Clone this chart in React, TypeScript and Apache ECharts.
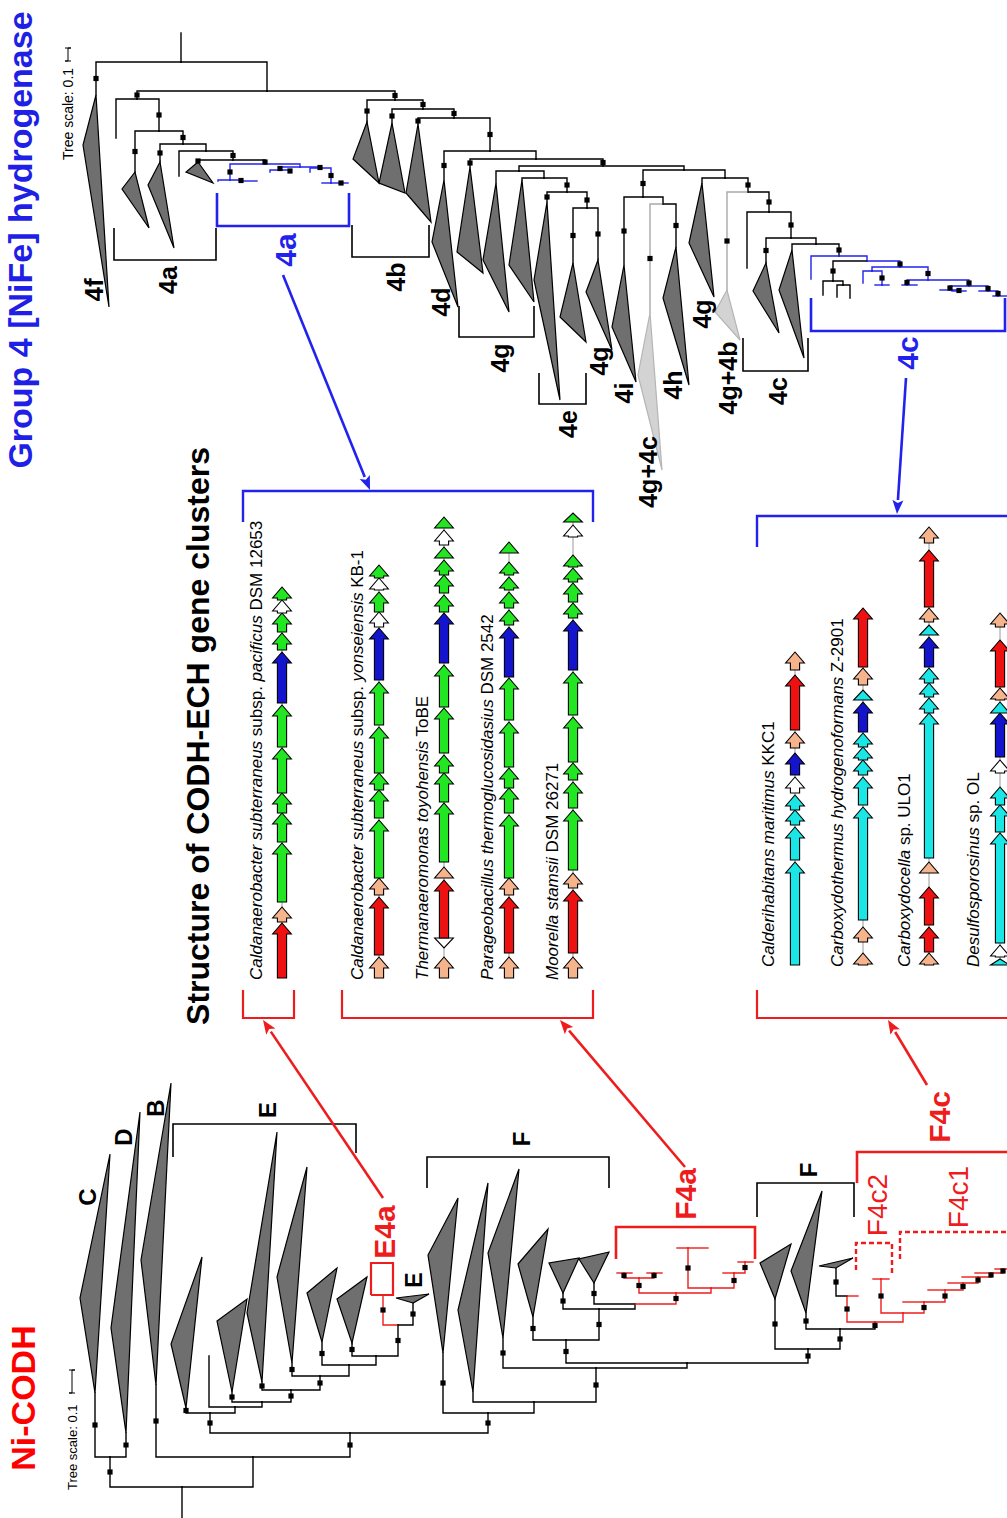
import React, { useEffect, useRef } from 'react';
import * as echarts from 'echarts';

const FONT = '"Liberation Sans", Arial, Helvetica, sans-serif';

// ---------------- DATA ----------------
// tree nodes: [id, parent, spread, depth, colour, hasSupportSquare]
type TNode = [string, string, number, number, string?, number?];

const codhTree: TNode[] = [
  ['R', '', 182, 1518], ['n1', 'R', 182, 1487],
  ['n2', 'n1', 110, 1457, 'k', 1], ['C', 'n2', 95, 1393, 'k', 1], ['D', 'n2', 126, 1433, 'k', 1],
  ['n3', 'n1', 253, 1457], ['B', 'n3', 156, 1385, 'k', 1], ['n4', 'n3', 350, 1433, 'k', 1],
  ['n5', 'n4', 210, 1413, 'k', 1], ['t1', 'n5', 186, 1408, 'k', 1], ['n6', 'n5', 235, 1407],
  ['l1', 'n6', 209, 1356], ['n7', 'n6', 262, 1402], ['t2', 'n7', 232, 1392, 'k', 1],
  ['n8', 'n7', 291, 1390, 'k', 1], ['t3', 'n8', 262, 1382, 'k', 1], ['n9', 'n8', 320, 1376, 'k', 1],
  ['t4', 'n9', 292, 1363, 'k', 1], ['n10', 'n9', 349, 1365], ['t5', 'n10', 322, 1342, 'k', 1],
  ['n11', 'n10', 376, 1356], ['t6', 'n11', 352, 1343, 'k', 1], ['n12', 'n11', 398, 1325, 'k', 1],
  ['e4a', 'n12', 383, 1295, 'r', 1], ['t7', 'n12', 413, 1303, 'k', 1],
  ['n13', 'n4', 488, 1413, 'k', 1], ['t8', 'n13', 443, 1353, 'k', 1], ['n14', 'n13', 534, 1402],
  ['t9', 'n14', 473, 1392], ['n15', 'n14', 596, 1368, 'k', 1], ['t10', 'n15', 503, 1338, 'k', 1],
  ['n16', 'n15', 687, 1363], ['n17', 'n16', 566, 1340, 'k', 1], ['t11', 'n17', 533, 1317, 'k', 1],
  ['n18', 'n17', 599, 1309, 'k', 1], ['t12', 'n18', 563, 1293, 'k', 1], ['n19', 'n18', 635, 1304],
  ['t13', 'n19', 594, 1283, 'k', 1],
  ['a0', 'n19', 676, 1293, 'r', 1], ['a1', 'a0', 639, 1278, 'r', 1], ['a2', 'a1', 624, 1273, 'r', 1],
  ['a2a', 'a2', 617, 1273, 'r'], ['a2b', 'a2', 632, 1273, 'r'], ['a3', 'a1', 654, 1273, 'r', 1],
  ['a3a', 'a3', 647, 1273, 'r'], ['a3b', 'a3', 662, 1273, 'r'], ['a4', 'a0', 711, 1288, 'r'],
  ['a5', 'a4', 688, 1248, 'r', 1], ['a5a', 'a5', 677, 1248, 'r'], ['a5b', 'a5', 708, 1248, 'r'],
  ['a6', 'a4', 734, 1273, 'r', 1], ['a6a', 'a6', 723, 1273, 'r'], ['a7', 'a6', 745, 1262, 'r', 1],
  ['a7a', 'a7', 738, 1262, 'r'], ['a7b', 'a7', 753, 1262, 'r'],
  ['n20', 'n16', 808, 1349, 'k', 1], ['t14', 'n20', 775, 1299, 'k', 1], ['n21', 'n20', 840, 1329, 'k', 1],
  ['t15', 'n21', 806, 1313, 'k', 1], ['n22', 'n21', 875, 1322, 'k', 1],
  ['c0', 'n22', 847, 1296, 'r', 1], ['t16', 'c0', 836, 1268, 'k', 1], ['c0b', 'c0', 858, 1296, 'r'],
  ['c1', 'n22', 903, 1313, 'r'], ['c2', 'c1', 881, 1279, 'r', 1], ['c2a', 'c2', 873, 1279, 'r'],
  ['c2b', 'c2', 889, 1279, 'r'], ['c3', 'c1', 924, 1302, 'r', 1], ['c3a', 'c3', 903, 1302, 'r'],
  ['c4', 'c3', 945, 1290, 'r', 1], ['c4a', 'c4', 928, 1290, 'r'], ['c5', 'c4', 963, 1283, 'r', 1],
  ['c5a', 'c5', 948, 1283, 'r'], ['c6', 'c5', 978, 1277, 'r', 1], ['c6a', 'c6', 962, 1277, 'r'],
  ['c7', 'c6', 991, 1273, 'r', 1], ['c7a', 'c7', 975, 1273, 'r'], ['c8', 'c7', 1003, 1269, 'r', 1],
  ['c8a', 'c8', 995, 1269, 'r'], ['c8b', 'c8', 1012, 1269, 'r'],
];

// collapsed clades: [node, x2, y2, x3, y3, shade]
const codhTriangles: [string, number, number, number, number, string?][] = [
  ['C', 80, 1298, 110, 1154], ['D', 111, 1328, 140, 1112], ['B', 141, 1260, 171, 1083],
  ['t1', 171, 1344, 202, 1257], ['t2', 217, 1321, 247, 1299], ['t3', 247, 1313, 277, 1132],
  ['t4', 277, 1277, 307, 1167], ['t5', 307, 1293, 337, 1268], ['t6', 337, 1299, 367, 1277],
  ['t7', 396, 1298, 429, 1294], ['t8', 428, 1255, 458, 1198], ['t9', 458, 1310, 488, 1183],
  ['t10', 488, 1253, 519, 1169], ['t11', 518, 1264, 548, 1229], ['t12', 549, 1263, 579, 1258],
  ['t13', 579, 1259, 609, 1252], ['t14', 760, 1263, 791, 1244], ['t15', 791, 1271, 822, 1191],
  ['t16', 819, 1266, 853, 1258],
];

const g4Tree: TNode[] = [
  ['R', '', 181, 33], ['g1', 'R', 181, 62], ['f4', 'g1', 96, 95, 'k', 1], ['g2', 'g1', 267, 91],
  ['g3', 'g2', 137, 99, 'k', 1], ['lf1', 'g3', 116, 138], ['g4', 'g3', 159, 131, 'k', 1],
  ['ta1', 'g4', 135, 172, 'k', 1], ['g5', 'g4', 183, 144, 'k', 1], ['ta2', 'g5', 160, 162, 'k', 1],
  ['g6', 'g5', 206, 151], ['lf2', 'g6', 179, 176], ['g7', 'g6', 233, 160, 'k', 1],
  ['ta3', 'g7', 198, 162, 'k', 1], ['g8', 'g7', 265, 164, 'k', 1],
  ['b1', 'g8', 230, 180, 'b', 1], ['b1a', 'b1', 218, 181, 'b'], ['b1b', 'b1', 241, 181, 'b', 1],
  ['b1c', 'b1b', 257, 181, 'b'], ['b2', 'g8', 300, 167, 'b'], ['b3', 'b2', 280, 170, 'b', 1],
  ['b3a', 'b3', 270, 172, 'b'], ['b3b', 'b3', 290, 172, 'b', 1], ['b4', 'b2', 320, 168, 'b', 1],
  ['b4a', 'b4', 310, 172, 'b'], ['b5', 'b4', 331, 183, 'b', 1], ['b5a', 'b5', 322, 183, 'b'],
  ['b5b', 'b5', 341, 183, 'b', 1], ['b5c', 'b5b', 348, 183, 'b'],
  ['g9', 'g2', 395, 100, 'k', 1], ['tb1', 'g9', 367, 122, 'k', 1], ['g10', 'g9', 423, 109, 'k', 1],
  ['tb2', 'g10', 392, 123, 'k', 1], ['g11', 'g10', 454, 118, 'k', 1], ['tb3', 'g11', 418, 124, 'k', 1],
  ['g12', 'g11', 490, 151, 'k', 1], ['td', 'g12', 444, 180, 'k', 1], ['g13', 'g12', 536, 159],
  ['tg1', 'g13', 470, 167, 'k', 1], ['g14', 'g13', 603, 166, 'k', 1], ['g15', 'g14', 519, 171],
  ['tg2', 'g15', 496, 183], ['g16', 'g15', 544, 178], ['tg3', 'g16', 522, 180],
  ['g17', 'g16', 567, 192, 'k', 1], ['te', 'g17', 547, 202, 'k', 1], ['g18', 'g17', 587, 208, 'k', 1],
  ['tg4', 'g18', 573, 263, 'k', 1], ['tg5', 'g18', 598, 260, 'k', 1], ['g19', 'g14', 684, 170],
  ['g20', 'g19', 643, 197, 'k', 1], ['ti', 'g20', 624, 265, 'k', 1], ['g21', 'g20', 663, 204],
  ['tgc', 'g21', 650, 313, 'g', 1], ['th', 'g21', 676, 247, 'k', 1], ['g22', 'g19', 725, 178],
  ['tg6', 'g22', 702, 183], ['g23', 'g22', 748, 192, 'k', 1], ['tgb', 'g23', 727, 290, 'g', 1],
  ['g24', 'g23', 769, 212, 'k', 1], ['lf3', 'g24', 747, 268], ['g25', 'g24', 791, 238, 'k', 1],
  ['tc1', 'g25', 766, 263, 'k', 1], ['g26', 'g25', 816, 244], ['tc2', 'g26', 792, 250],
  ['g27', 'g26', 839, 256, 'k', 1],
  ['c1', 'g27', 811, 279, 'b'], ['c2', 'g27', 867, 261, 'b'], ['c3', 'c2', 833, 281, 'k', 1],
  ['c3a', 'c3', 823, 295, 'k'], ['c3b', 'c3', 843, 285, 'k'], ['c3c', 'c3b', 837, 297, 'k'],
  ['c3d', 'c3b', 850, 298, 'k'], ['c4', 'c2', 900, 267, 'b', 1], ['c5', 'c4', 872, 271, 'b'],
  ['c5a', 'c5', 863, 283, 'b'], ['c5b', 'c5', 882, 285, 'b', 1], ['c5c', 'c5b', 875, 285, 'b'],
  ['c5d', 'c5b', 889, 285, 'b'], ['c6', 'c4', 928, 280, 'b', 1], ['c7', 'c6', 907, 285, 'b', 1],
  ['c7a', 'c7', 902, 285, 'b'], ['c7b', 'c7', 917, 285, 'b'], ['c8', 'c6', 969, 286, 'b', 1],
  ['c9', 'c8', 950, 290, 'b', 1], ['c9a', 'c9', 940, 290, 'b'], ['c9b', 'c9', 959, 291, 'b', 1],
  ['c9c', 'c9b', 952, 291, 'b'], ['c9d', 'c9b', 966, 291, 'b'], ['c10', 'c8', 988, 291, 'b', 1],
  ['c10a', 'c10', 979, 291, 'b'], ['c11', 'c10', 998, 296, 'b', 1], ['c11a', 'c11', 993, 296, 'b'],
  ['c11b', 'c11', 1007, 296, 'b'],
];

const g4Triangles: [string, number, number, number, number, string?][] = [
  ['f4', 83, 145, 109, 307], ['ta1', 122, 189, 149, 228], ['ta2', 148, 185, 174, 248],
  ['ta3', 186, 172, 213, 183], ['tb1', 353, 159, 379, 183], ['tb2', 379, 183, 405, 193],
  ['tb3', 406, 193, 431, 222], ['td', 432, 242, 458, 307], ['tg1', 457, 252, 483, 273],
  ['tg2', 483, 260, 509, 312], ['tg3', 509, 265, 534, 302], ['te', 534, 280, 560, 400],
  ['tg4', 560, 317, 586, 342], ['tg5', 586, 292, 612, 350], ['ti', 612, 327, 636, 382],
  ['tgc', 638, 375, 662, 470, 'g'], ['th', 663, 298, 689, 385], ['tg6', 689, 243, 714, 297],
  ['tgb', 715, 312, 740, 340, 'g'], ['tc1', 753, 291, 779, 333], ['tc2', 779, 290, 804, 358],
];

// gene clusters: [start, end, kind] measured from the start of each locus
const geneRows: [number, number, string][][] = [
  [[0, 55, 'R'], [56, 71, 'P'], [76, 135, 'G'], [136, 165, 'G'], [165, 185, 'G'], [185, 230, 'G'], [231, 273, 'G'], [275, 326, 'B'], [328, 345, 'G'], [346, 365, 'G'], [365, 378, 'W'], [378, 391, 'G']],
  [[0, 21, 'P'], [23, 81, 'R'], [83, 100, 'P'], [100, 158, 'G'], [160, 188, 'G'], [188, 205, 'G'], [205, 251, 'G'], [253, 296, 'G'], [298, 350, 'B'], [351, 366, 'W'], [366, 386, 'G'], [388, 400, 'W'], [400, 413, 'G']],
  [[0, 21, 'P'], [30, 40, 'D'], [40, 98, 'R'], [100, 111, 'P'], [116, 175, 'G'], [176, 205, 'G'], [205, 223, 'G'], [225, 270, 'G'], [271, 313, 'G'], [315, 365, 'B'], [366, 383, 'G'], [385, 403, 'G'], [403, 418, 'G'], [420, 431, 'G'], [433, 448, 'W'], [450, 461, 'G']],
  [[0, 21, 'P'], [25, 81, 'R'], [83, 100, 'P'], [100, 163, 'G'], [165, 190, 'G'], [190, 210, 'G'], [211, 256, 'G'], [258, 300, 'G'], [301, 351, 'B'], [353, 368, 'G'], [370, 386, 'G'], [388, 401, 'G'], [403, 416, 'G'], [425, 436, 'G']],
  [[0, 21, 'P'], [25, 88, 'R'], [90, 105, 'P'], [108, 168, 'G'], [170, 196, 'G'], [198, 215, 'G'], [216, 261, 'G'], [263, 306, 'G'], [308, 358, 'B'], [360, 375, 'G'], [376, 395, 'G'], [396, 410, 'G'], [411, 423, 'G'], [441, 453, 'W'], [456, 465, 'G']],
  [[0, 103, 'C'], [105, 138, 'C'], [140, 155, 'C'], [155, 170, 'C'], [172, 188, 'W'], [190, 212, 'B'], [217, 233, 'P'], [235, 290, 'R'], [295, 313, 'P']],
  [[0, 12, 'P'], [23, 38, 'P'], [45, 158, 'C'], [160, 188, 'C'], [190, 205, 'C'], [205, 218, 'C'], [218, 232, 'C'], [233, 263, 'B'], [265, 275, 'C'], [280, 297, 'P'], [298, 357, 'R']],
  [[0, 12, 'P'], [13, 38, 'R'], [40, 78, 'R'], [92, 103, 'P'], [107, 252, 'C'], [252, 267, 'C'], [268, 282, 'C'], [282, 297, 'C'], [298, 328, 'B'], [330, 340, 'C'], [343, 357, 'P'], [358, 415, 'R'], [422, 438, 'P']],
  [[0, 6, 'C'], [8, 20, 'W'], [22, 132, 'C'], [133, 160, 'C'], [160, 178, 'C'], [192, 205, 'W'], [208, 252, 'B'], [252, 263, 'C'], [265, 277, 'P'], [278, 325, 'R'], [338, 352, 'P']],
];

const rowNames: string[] = [
  '{i|Caldanaerobacter subterraneus} subsp. {i|pacificus} DSM 12653',
  '{i|Caldanaerobacter subterraneus} subsp. {i|yonseiensis} KB-1',
  '{i|Thermanaeromonas toyohensis} ToBE',
  '{i|Parageobacillus thermoglucosidasius} DSM 2542',
  '{i|Moorella stamsii} DSM 26271',
  '{i|Calderihabitans maritimus} KKC1',
  '{i|Carboxydothermus hydrogenoformans} Z-2901',
  '{i|Carboxydocella} sp. ULO1',
  '{i|Desulfosporosinus} sp. OL',
];

// clade labels: [text, colour, size, weight]
const cladeLabelText: [string, string, number, string][] = [
  ['C', 'k', 24, 'bold'], ['D', 'k', 24, 'bold'], ['B', 'k', 24, 'bold'], ['E', 'k', 24, 'bold'],
  ['E', 'k', 23, 'bold'], ['E4a', 'r', 30, 'bold'], ['F', 'k', 24, 'bold'], ['F4a', 'r', 30, 'bold'],
  ['F', 'k', 24, 'bold'], ['F4c', 'r', 30, 'bold'], ['F4c2', 'r', 28, 'normal'], ['F4c1', 'r', 28, 'normal'],
  ['4f', 'k', 26, 'bold'], ['4a', 'k', 25, 'bold'], ['4a', 'b', 30, 'bold'], ['4b', 'k', 25, 'bold'],
  ['4d', 'k', 25, 'bold'], ['4g', 'k', 25, 'bold'], ['4e', 'k', 25, 'bold'], ['4g', 'k', 25, 'bold'],
  ['4i', 'k', 25, 'bold'], ['4g+4c', 'k', 25, 'bold'], ['4h', 'k', 25, 'bold'], ['4g', 'k', 25, 'bold'],
  ['4g+4b', 'k', 25, 'bold'], ['4c', 'k', 25, 'bold'], ['4c', 'b', 30, 'bold'],
];

// ---------------- LAYOUT ----------------
const cladeLabelPos: [number, number][] = [
  [87, 1197], [123, 1137], [155, 1108], [267, 1110], [414, 1280], [384, 1232], [521, 1139], [685, 1194],
  [808, 1170], [939, 1117], [877, 1205], [958, 1197],
  [94, 290], [168, 280], [285, 250], [396, 277], [441, 302], [500, 358], [568, 424], [599, 361],
  [624, 393], [648, 472], [673, 385], [702, 314], [728, 378], [778, 391], [907, 353],
];
const rowX = [282, 379, 444, 509, 573, 795, 863, 929, 1000];
const rowOrigin = [978, 978, 978, 978, 978, 965, 965, 965, 965];
const rowLabelX = [256, 357, 422, 487, 552, 768, 837, 904, 973];

type Br = { pts: number[][]; c: string; w: number; dash?: boolean };
const brackets: Br[] = [
  { pts: [[114, 228], [114, 260], [216, 260], [216, 228]], c: 'k', w: 1.6 },
  { pts: [[217, 193], [217, 226], [349, 226], [349, 193]], c: 'b', w: 2.6 },
  { pts: [[352, 225], [352, 257], [429, 257], [429, 225]], c: 'k', w: 1.6 },
  { pts: [[459, 306], [459, 337], [534, 337], [534, 306]], c: 'k', w: 1.6 },
  { pts: [[539, 373], [539, 404], [586, 404], [586, 373]], c: 'k', w: 1.6 },
  { pts: [[743, 338], [743, 371], [808, 371], [808, 338]], c: 'k', w: 1.6 },
  { pts: [[811, 298], [811, 331], [1005, 331], [1005, 298]], c: 'b', w: 2.6 },
  { pts: [[173, 1157], [173, 1124], [356, 1124], [356, 1153]], c: 'k', w: 1.6 },
  { pts: [[427, 1188], [427, 1157], [609, 1157], [609, 1188]], c: 'k', w: 1.6 },
  { pts: [[757, 1217], [757, 1183], [854, 1183], [854, 1217]], c: 'k', w: 1.6 },
  { pts: [[616, 1259], [616, 1227], [755, 1227], [755, 1259]], c: 'r', w: 2.6 },
  { pts: [[857, 1183], [857, 1152], [1012, 1152]], c: 'r', w: 2.6 },
  { pts: [[856, 1270], [856, 1243], [892, 1243], [892, 1273]], c: 'r', w: 2.4, dash: true },
  { pts: [[900, 1259], [900, 1232], [1012, 1232]], c: 'r', w: 2.4, dash: true },
  { pts: [[371, 1295], [371, 1263], [393, 1263], [393, 1295], [371, 1295]], c: 'r', w: 2.2 },
  // gene-cluster frames
  { pts: [[243, 522], [243, 491], [593, 491], [593, 522]], c: 'b', w: 2.4 },
  { pts: [[757, 547], [757, 516], [1012, 516]], c: 'b', w: 2.4 },
  { pts: [[243, 990], [243, 1018], [294, 1018], [294, 990]], c: 'r', w: 2.2 },
  { pts: [[342, 990], [342, 1018], [593, 1018], [593, 990]], c: 'r', w: 2.2 },
  { pts: [[757, 990], [757, 1018], [1012, 1018]], c: 'r', w: 2.2 },
];
const pointers: { a: number[]; b: number[]; c: string }[] = [
  { a: [283, 275], b: [370, 490], c: 'b' },
  { a: [906, 378], b: [897, 514], c: 'b' },
  { a: [383, 1198], b: [263, 1020], c: 'r' },
  { a: [685, 1167], b: [560, 1020], c: 'r' },
  { a: [927, 1085], b: [888, 1020], c: 'r' },
];

const COL: Record<string, string> = { k: '#000000', r: '#ee1c1c', b: '#2222ee', g: '#a9a9a9' };
const GENE: Record<string, string> = {
  R: '#ee1111', P: '#f5b48c', G: '#22e622', B: '#1414cc', W: '#ffffff', D: '#ffffff', C: '#1ae6e6',
};

const ROT = Math.PI / 2;

function txt(x: number, y: number, text: string, size: number, fill: string, weight = 'normal', align = 'center', rich?: any) {
  return {
    type: 'text', x, y, rotation: ROT, silent: true, z: 10,
    style: {
      text, fill, fontSize: size, fontWeight: weight, fontFamily: FONT,
      align, verticalAlign: 'middle', textAlign: align, textVerticalAlign: 'middle', rich,
    },
  };
}

function treeElements(nodes: TNode[], tris: [string, number, number, number, number, string?][]) {
  const els: any[] = [];
  const map = new Map<string, TNode>();
  nodes.forEach((n) => map.set(n[0], n));
  nodes.forEach((n) => {
    const p = map.get(n[1]);
    if (!p) return;
    els.push({
      type: 'polyline', silent: true, z: 2,
      shape: { points: [[p[2], p[3]], [n[2], p[3]], [n[2], n[3]]] },
      style: { stroke: COL[n[4] || 'k'], lineWidth: 1.4, fill: 'none', lineJoin: 'miter', lineCap: 'square' },
    });
  });
  tris.forEach((t) => {
    const n = map.get(t[0])!;
    const grey = t[5] === 'g';
    els.push({
      type: 'polygon', silent: true, z: 3,
      shape: { points: [[n[2], n[3]], [t[1], t[2]], [t[3], t[4]]] },
      style: { fill: grey ? '#d3d3d3' : '#6f6f6f', stroke: grey ? '#b5b5b5' : '#000', lineWidth: 1.2, lineJoin: 'miter' },
    });
  });
  nodes.forEach((n) => {
    const p = map.get(n[1]);
    if (!p || !n[5]) return;
    const my = (p[3] + n[3]) / 2;
    els.push({ type: 'rect', silent: true, z: 4, shape: { x: n[2] - 2.6, y: my - 2.6, width: 5.2, height: 5.2 }, style: { fill: '#000' } });
  });
  return els;
}

function genePoly(x: number, yb: number, yt: number, down: boolean) {
  const len = yb - yt;
  const hl = Math.min(11, len);
  const bw = 4.6, hw = 9.4;
  if (!down) {
    const yh = yt + hl;
    return [[x - bw, yb], [x - bw, yh], [x - hw, yh], [x, yt], [x + hw, yh], [x + bw, yh], [x + bw, yb]];
  }
  const yh = yb - hl;
  return [[x - bw, yt], [x - bw, yh], [x - hw, yh], [x, yb], [x + hw, yh], [x + bw, yh], [x + bw, yt]];
}

function buildGraphic() {
  const els: any[] = [];
  // titles
  els.push(txt(23, 1398, 'Ni-CODH', 34, '#ff0000', 'bold'));
  els.push(txt(20, 240, 'Group 4 [NiFe] hydrogenase', 34, '#1f1fe6', 'bold'));
  els.push(txt(198, 736, 'Structure of CODH-ECH gene clusters', 32, '#000', 'bold'));

  // scale bars
  els.push(txt(72, 1490, 'Tree scale: 0.1', 13, '#000', 'normal', 'left'));
  els.push({ type: 'polyline', silent: true, shape: { points: [[69, 1370], [75, 1370], [72, 1370], [72, 1393], [69, 1393], [75, 1393]] }, style: { stroke: '#000', lineWidth: 1, fill: 'none' } });
  els.push(txt(68, 160, 'Tree scale: 0.1', 14, '#000', 'normal', 'left'));
  els.push({ type: 'polyline', silent: true, shape: { points: [[65, 48], [71, 48], [68, 48], [68, 61], [65, 61], [71, 61]] }, style: { stroke: '#000', lineWidth: 1, fill: 'none' } });

  // trees
  els.push(...treeElements(codhTree, codhTriangles));
  els.push(...treeElements(g4Tree, g4Triangles));

  // brackets
  brackets.forEach((b) => {
    els.push({
      type: 'polyline', silent: true, z: 2, shape: { points: b.pts },
      style: { stroke: COL[b.c], lineWidth: b.w, fill: 'none', lineDash: b.dash ? [5, 3] : null, lineJoin: 'miter' },
    });
  });

  // pointer arrows
  pointers.forEach((p) => {
    const dx = p.b[0] - p.a[0], dy = p.b[1] - p.a[1];
    const L = Math.hypot(dx, dy);
    const ux = dx / L, uy = dy / L;
    const bx = p.b[0] - ux * 14, by = p.b[1] - uy * 14;
    els.push({ type: 'line', silent: true, z: 5, shape: { x1: p.a[0], y1: p.a[1], x2: bx, y2: by }, style: { stroke: COL[p.c], lineWidth: 2.6 } });
    els.push({
      type: 'polygon', silent: true, z: 5,
      shape: { points: [[p.b[0], p.b[1]], [bx - uy * 5.5, by + ux * 5.5], [bx + ux * 3, by + uy * 3], [bx + uy * 5.5, by - ux * 5.5]] },
      style: { fill: COL[p.c] },
    });
  });

  // clade labels
  cladeLabelText.forEach((l, i) => {
    const [x, y] = cladeLabelPos[i];
    els.push(txt(x, y, l[0], l[2], COL[l[1]], l[3]));
  });

  // gene clusters
  geneRows.forEach((genes, r) => {
    const x = rowX[r], y0 = rowOrigin[r];
    const last = genes[genes.length - 1][1];
    els.push({ type: 'line', silent: true, z: 6, shape: { x1: x, y1: y0, x2: x, y2: y0 - last }, style: { stroke: '#9a9a9a', lineWidth: 1 } });
    genes.forEach((g) => {
      els.push({
        type: 'polygon', silent: true, z: 7,
        shape: { points: genePoly(x, y0 - g[0], y0 - g[1], g[2] === 'D') },
        style: { fill: GENE[g[2]], stroke: '#000', lineWidth: 1.1, lineJoin: 'miter' },
      });
    });
    els.push(txt(rowLabelX[r], y0 + 2, rowNames[r], 17, '#000', 'normal', 'left', {
      i: { fontStyle: 'italic', fontSize: 17, fontFamily: FONT, fill: '#000' },
    }));
  });
  return els;
}

export default function App() {
  const ref = useRef<HTMLDivElement>(null);
  useEffect(() => {
    document.body.style.margin = '0';
    const chart = echarts.init(ref.current!, undefined, { renderer: 'svg' });
    chart.setOption({
      animation: false,
      backgroundColor: '#ffffff',
      graphic: { elements: buildGraphic() },
    });
    return () => chart.dispose();
  }, []);
  return <div ref={ref} style={{ position: 'absolute', left: 0, top: 0, width: 1007, height: 1518 }} />;
}
